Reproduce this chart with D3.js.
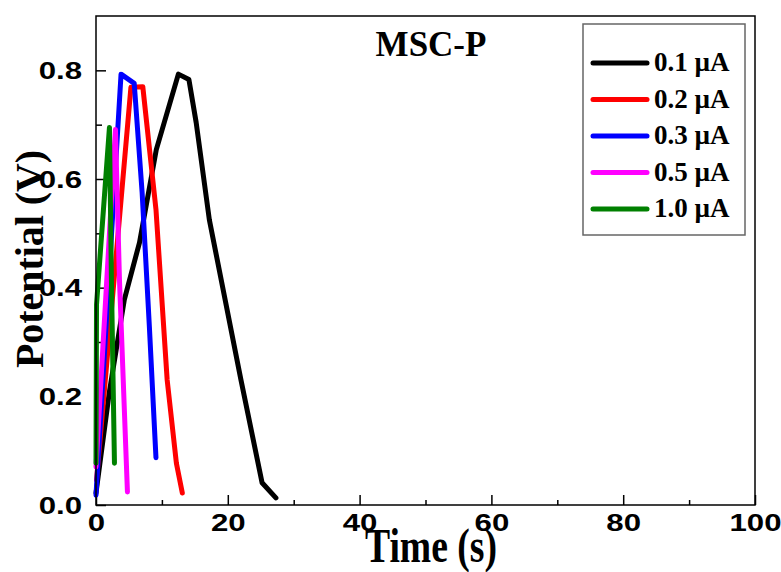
<!DOCTYPE html>
<html>
<head>
<meta charset="utf-8">
<script src="https://cdn.jsdelivr.net/npm/d3@7"></script>
<style>
  html, body { margin: 0; padding: 0; background: #fff; }
  svg { display: block; }
</style>
</head>
<body>
<svg id="chart" width="781" height="572"></svg>
<script>
// series labels + colours
var seriesNames = ["0.1 \u00b5A", "0.2 \u00b5A", "0.3 \u00b5A", "0.5 \u00b5A", "1.0 \u00b5A"];
var seriesColors = ["#000000", "#ff0000", "#0000ff", "#ff00ff", "#008000"];

// time (s) / potential (V)
var time01 = [0, 2.0, 4.3, 6.6, 9.15, 12.5, 14.1, 15.2, 17.2, 22.0, 25.2, 27.3];
var volt01 = [0.022, 0.206, 0.378, 0.483, 0.654, 0.793, 0.783, 0.704, 0.525, 0.230, 0.041, 0.013];

var time02 = [0.08, 5.3, 7.1, 9.1, 10.8, 12.2, 13.1];
var volt02 = [0.046, 0.769, 0.770, 0.544, 0.230, 0.077, 0.022];

var time03 = [0, 3.8, 5.8, 7.0, 8.1, 9.1];
var volt03 = [0.018, 0.793, 0.776, 0.575, 0.328, 0.087];

var time05 = [0, 2.95, 3.56, 4.77];
var volt05 = [0.070, 0.691, 0.415, 0.024];

var time10 = [0, 0.08, 2.04, 2.34, 2.8];
var volt10 = [0.077, 0.369, 0.695, 0.415, 0.077];

var xTicks = [0, 20, 40, 60, 80, 100];
var yTicks = [0.0, 0.2, 0.4, 0.6, 0.8];

var seriesTimes = [time01, time02, time03, time05, time10];
var seriesVolts = [volt01, volt02, volt03, volt05, volt10];

var svg = d3.select("#chart");

// plot box (note: "top" is taken by window.top)
var plotLeft = 96, plotRight = 755, plotTop = 16, plotBottom = 505;

var x = d3.scaleLinear().domain([0, 100]).range([plotLeft, plotRight]);
var y = d3.scaleLinear().domain([0, 0.9]).range([plotBottom, plotTop]);

var serif = "'Liberation Serif', 'Times New Roman', serif";
var sans = "'Liberation Sans', Arial, sans-serif";

// stretch tick labels sideways like the original
function stretch(sel, k) {
  sel.each(function () {
    var w = this.getComputedTextLength();
    d3.select(this).attr("textLength", w * k).attr("lengthAdjust", "spacingAndGlyphs");
  });
}

// minor ticks (inward)
var xAxisMinor = d3.axisBottom(x).tickValues(d3.range(10, 100, 20)).tickSize(-5).tickFormat("");
var yAxisMinor = d3.axisLeft(y).tickValues([0.1, 0.3, 0.5, 0.7]).tickSize(-6).tickFormat("");

svg.append("g").attr("transform", "translate(0," + plotBottom + ")").call(xAxisMinor)
  .call(g => g.select(".domain").remove())
  .selectAll("line").attr("stroke", "#000").attr("stroke-width", 1.5);
svg.append("g").attr("transform", "translate(" + plotLeft + ",0)").call(yAxisMinor)
  .call(g => g.select(".domain").remove())
  .selectAll("line").attr("stroke", "#000").attr("stroke-width", 1.5);

// major ticks
var xAxis = d3.axisBottom(x).tickValues(xTicks).tickSizeInner(-10).tickSizeOuter(0)
  .tickFormat(d3.format("d"));
var yAxis = d3.axisLeft(y).tickValues(yTicks).tickSizeInner(-10).tickSizeOuter(0)
  .tickFormat(d3.format(".1f"));

var gx = svg.append("g").attr("transform", "translate(0," + plotBottom + ")").call(xAxis);
gx.select(".domain").remove();
gx.selectAll("line").attr("stroke", "#000").attr("stroke-width", 1.5);
gx.selectAll("text").attr("font-family", sans).attr("font-weight", "bold").attr("font-size", 24)
  .attr("fill", "#000").attr("y", 9).attr("dy", "0.71em").call(stretch, 1.3);

var gy = svg.append("g").attr("transform", "translate(" + plotLeft + ",0)").call(yAxis);
gy.select(".domain").remove();
gy.selectAll("line").attr("stroke", "#000").attr("stroke-width", 1.5);
gy.selectAll("text").attr("font-family", sans).attr("font-weight", "bold").attr("font-size", 24)
  .attr("fill", "#000").attr("x", -14).attr("dy", "0.34em").call(stretch, 1.3);

// curves
var line = d3.line().x(d => x(d[0])).y(d => y(d[1]));

seriesTimes.forEach(function (ts, i) {
  var pts = ts.map((t, j) => [t, seriesVolts[i][j]]);
  svg.append("path")
    .datum(pts)
    .attr("d", line)
    .attr("fill", "none")
    .attr("stroke", seriesColors[i])
    .attr("stroke-width", 5)
    .attr("stroke-linejoin", "round")
    .attr("stroke-linecap", "round");
});

// frame
svg.append("rect")
  .attr("x", plotLeft).attr("y", plotTop)
  .attr("width", plotRight - plotLeft).attr("height", plotBottom - plotTop)
  .attr("fill", "none").attr("stroke", "#000").attr("stroke-width", 1.5);

// title
svg.append("text")
  .attr("x", 431).attr("y", 56)
  .attr("text-anchor", "middle")
  .attr("font-family", serif).attr("font-weight", "bold").attr("font-size", 35)
  .text("MSC-P");

// axis labels
svg.append("text")
  .attr("x", 431).attr("y", 562)
  .attr("text-anchor", "middle")
  .attr("font-family", serif).attr("font-weight", "bold").attr("font-size", 48)
  .attr("textLength", 132).attr("lengthAdjust", "spacingAndGlyphs")
  .text("Time (s)");

svg.append("text")
  .attr("transform", "translate(43,259) rotate(-90)")
  .attr("text-anchor", "middle")
  .attr("font-family", serif).attr("font-weight", "bold").attr("font-size", 40)
  .attr("textLength", 218).attr("lengthAdjust", "spacingAndGlyphs")
  .text("Potential (V)");

// legend
var legend = svg.append("g");
legend.append("rect")
  .attr("x", 583).attr("y", 24).attr("width", 162).attr("height", 211)
  .attr("fill", "#fff").attr("stroke", "#666").attr("stroke-width", 1.5);

var rowY = d3.scalePoint().domain(seriesNames).range([63, 209]);

seriesNames.forEach(function (name, i) {
  var yy = rowY(name);
  legend.append("line")
    .attr("x1", 593).attr("x2", 647).attr("y1", yy).attr("y2", yy)
    .attr("stroke", seriesColors[i]).attr("stroke-width", 5).attr("stroke-linecap", "round");
  legend.append("text")
    .attr("x", 654).attr("y", yy + 8)
    .attr("font-family", serif).attr("font-weight", "bold").attr("font-size", 27)
    .text(name);
});
</script>
</body>
</html>
